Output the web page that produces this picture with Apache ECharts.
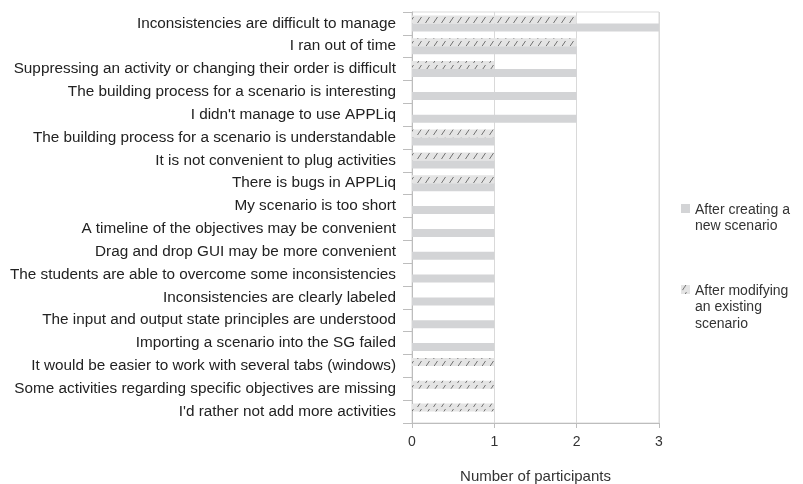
<!DOCTYPE html>
<html>
<head>
<meta charset="utf-8">
<script src="https://cdn.jsdelivr.net/npm/echarts@6/dist/echarts.min.js"></script>
<style>html,body{margin:0;padding:0;background:#fff;}#c{width:803px;height:484px;}</style>
</head>
<body>
<div id="c"></div>
<script>
const categories = [
  "Inconsistencies are difficult to manage",
  "I ran out of time",
  "Suppressing an activity or changing their order is difficult",
  "The building process for a scenario is interesting",
  "I didn't manage to use APPLiq",
  "The building process for a scenario is understandable",
  "It is not convenient to plug activities",
  "There is bugs in APPLiq",
  "My scenario is too short",
  "A timeline of the objectives may be convenient",
  "Drag and drop GUI may be more convenient",
  "The students are able to overcome some inconsistencies",
  "Inconsistencies are clearly labeled",
  "The input and output state principles are understood",
  "Importing a scenario into the SG failed",
  "It would be easier to work with several tabs (windows)",
  "Some activities regarding specific objectives are missing",
  "I'd rather not add more activities"
];
const afterCreating = [3, 2, 2, 2, 2, 1, 1, 1, 1, 1, 1, 1, 1, 1, 1, 0, 0, 0];
const afterModifying = [2, 2, 1, 0, 0, 1, 1, 1, 0, 0, 0, 0, 0, 0, 0, 1, 1, 1];
const xTicks = [0, 1, 2, 3];
const seriesNames = ["After creating a new scenario", "After modifying an existing scenario"];
const legendText = {
  "After creating a new scenario": "After creating a\nnew scenario",
  "After modifying an existing scenario": "After modifying\nan existing\nscenario"
};

const pc = document.createElement('canvas');
pc.width = 8; pc.height = 8;
const g = pc.getContext('2d');
g.fillStyle = '#e4e4e4';
g.fillRect(0, 0, 8, 8);
g.strokeStyle = '#737373';
g.lineWidth = 1;
g.beginPath();
g.moveTo(1.5, 7);
g.lineTo(5.5, 1);
g.stroke();
const hatch = { image: pc, repeat: 'repeat' };

const chart = echarts.init(document.getElementById('c'));
const font = "Liberation Sans";
const legendBase = {
  orient: 'vertical', left: 676, itemWidth: 9,
  textStyle: { fontFamily: font, fontSize: 14, color: '#333' },
  formatter: n => legendText[n] || n,
  selectedMode: false
};
chart.setOption({
  animation: false,
  backgroundColor: '#fff',
  textStyle: { fontFamily: font },
  grid: { left: 412, right: 144, top: 12, bottom: 61, show: true, borderColor: '#d9d9d9', borderWidth: 1,
          outerBoundsMode: 'none', containLabel: false },
  legend: [
    Object.assign({}, legendBase, {
      top: 197, itemHeight: 32,
      textStyle: Object.assign({}, legendBase.textStyle, { lineHeight: 16 }),
      data: [{ name: seriesNames[0], icon: 'path://M0,2L9,2L9,11L0,11Z M0,0L0.001,0Z M0,32L0.001,32Z' }]
    }),
    Object.assign({}, legendBase, {
      top: 278, itemHeight: 49,
      textStyle: Object.assign({}, legendBase.textStyle, { lineHeight: 16.4 }),
      data: [{ name: seriesNames[1], icon: 'path://M0,2L9,2L9,11L0,11Z M0,0L0.001,0Z M0,49L0.001,49Z' }]
    })
  ],
  xAxis: {
    type: 'value', min: 0, max: 3, interval: 1,
    axisLine: { show: true, lineStyle: { color: '#bdbdbd' } },
    axisTick: { show: true, length: 5, lineStyle: { color: '#bdbdbd' } },
    axisLabel: { fontFamily: font, fontSize: 14, color: '#333', margin: 12, formatter: v => xTicks.includes(v) ? String(v) : '' },
    splitLine: { show: true, lineStyle: { color: '#d9d9d9' } },
    name: 'Number of participants', nameLocation: 'middle', nameGap: 46,
    nameTextStyle: { fontFamily: font, fontSize: 15, color: '#333' }
  },
  yAxis: {
    type: 'category', data: categories, inverse: true,
    axisLine: { show: true, lineStyle: { color: '#bdbdbd' } },
    axisTick: { show: true, length: 9, lineStyle: { color: '#bdbdbd' } },
    axisLabel: { fontFamily: font, fontSize: 15.3, color: '#222', margin: 16, interval: 0 }
  },
  series: [
    { name: seriesNames[1], type: 'bar', data: afterModifying, barCategoryGap: '30%', barGap: '0%',
      itemStyle: { color: hatch } },
    { name: seriesNames[0], type: 'bar', data: afterCreating, barCategoryGap: '30%', barGap: '0%',
      itemStyle: { color: '#d3d4d6' } }
  ]
});
</script>
</body>
</html>
